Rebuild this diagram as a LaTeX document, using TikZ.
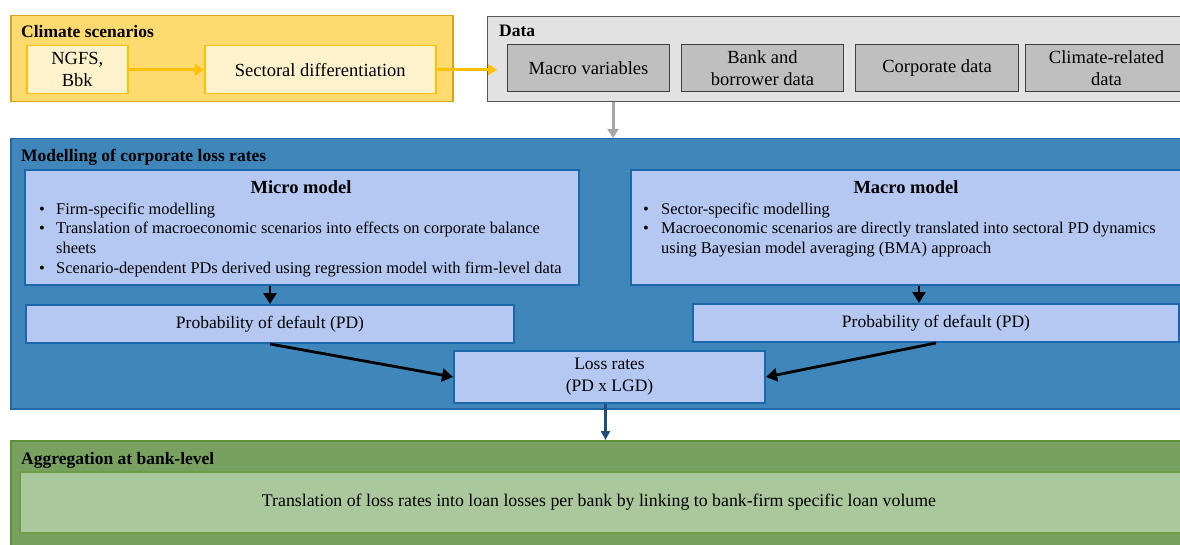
\documentclass[tikz,border=0pt]{standalone}
\usepackage{fontspec}
\setmainfont{Liberation Serif}
\usetikzlibrary{arrows.meta,calc}
\definecolor{climfill}{HTML}{FFDA6E}
\definecolor{climdraw}{HTML}{D9A41A}
\definecolor{yinfill}{HTML}{FFF2CC}
\definecolor{yindraw}{HTML}{FFC000}
\definecolor{datafill}{HTML}{E2E2E2}
\definecolor{datadraw}{HTML}{595959}
\definecolor{dinfill}{HTML}{BFBFBF}
\definecolor{dindraw}{HTML}{404040}
\definecolor{modfill}{HTML}{3F87BA}
\definecolor{moddraw}{HTML}{1F68A6}
\definecolor{binfill}{HTML}{B4C8F2}
\definecolor{bindraw}{HTML}{1C67AA}
\definecolor{aggfill}{HTML}{78A160}
\definecolor{aggdraw}{HTML}{5E9230}
\definecolor{ginfill}{HTML}{ABC79C}
\definecolor{gindraw}{HTML}{6C9E45}
\definecolor{grayarrow}{HTML}{A6A6A6}
\definecolor{bluearrow}{HTML}{1F4E79}
\newcommand{\fmain}{\fontsize{18.5}{22}\selectfont}
\newcommand{\fpd}{\fontsize{17.5}{22}\selectfont}
\newcommand{\fbul}{\fontsize{16.4}{19.7}\selectfont}
\newcommand{\fttl}{\fontsize{17.5}{20}\selectfont\bfseries}
\newcommand{\bpm}{\makebox[17pt][l]{\textbullet}}
\newcommand{\bpM}{\makebox[18pt][l]{\textbullet}}
\begin{document}
\begin{tikzpicture}[x=1pt,y=-1pt,
  outerbox/.style={anchor=north west, inner sep=0pt, line width=1.5pt, rectangle},
  ybox/.style={anchor=north west, inner sep=0pt, line width=1.5pt, fill=yinfill, draw=yindraw, align=center, font=\fmain},
  dbox/.style={anchor=north west, inner sep=0pt, line width=1pt, fill=dinfill, draw=dindraw, align=center, font=\fmain},
  bbox/.style={anchor=north west, inner sep=0pt, line width=2pt, fill=binfill, draw=bindraw, align=center, font=\fpd},
  gbox/.style={anchor=north west, inner sep=0pt, line width=2pt, fill=ginfill, draw=gindraw, align=center, font=\fpd},
  ttl/.style={anchor=base west, inner sep=0pt, font=\fttl},
  yarrow/.style={draw=yindraw, line width=2.5pt, -{Triangle[width=11pt,length=9pt]}},
  garrow/.style={draw=grayarrow, line width=3pt, -{Triangle[width=11pt,length=9pt]}},
  karrow/.style={draw=black, line width=2.8pt, -{Triangle[width=13pt,length=11pt]}},
  barrow/.style={draw=bluearrow, line width=2.5pt, -{Triangle[width=9pt,length=9pt]}}
]
\useasboundingbox (0,0) rectangle (1180,545);
% Climate scenarios
\node[outerbox, fill=climfill, draw=climdraw, minimum width=442pt, minimum height=86pt] (clim) at (10,15) {};
\node[ttl] (climt) at (21,38) {Climate scenarios};
\node[ybox, minimum width=101pt, minimum height=48pt] (ngfs) at (26,45) {NGFS,\\Bbk};
\node[ybox, minimum width=231pt, minimum height=48pt] (sect) at (204,45) {Sectoral differentiation};
% Data
\node[outerbox, fill=datafill, draw=datadraw, line width=1pt, minimum width=720pt, minimum height=85pt] (data) at (487,16) {};
\node[ttl] (datat) at (499,37) {Data};
\node[dbox, minimum width=162pt, minimum height=47pt] (mv) at (507,44) {Macro variables};
\node[dbox, minimum width=162pt, minimum height=47pt] (bank) at (681,44) {Bank and\\borrower data};
\node[dbox, minimum width=163pt, minimum height=47pt] (corp) at (855,44) {Corporate data};
\node[dbox, minimum width=162pt, minimum height=47pt] (cdat) at (1025,44) {Climate-related\\data};
% Modelling
\node[outerbox, fill=modfill, draw=moddraw, minimum width=1190pt, minimum height=270pt] (model) at (10,138) {};
\node[ttl] (modelt) at (21,162) {Modelling of corporate loss rates};
\node[bbox, minimum width=554pt, minimum height=115pt] (micro) at (24,169) {};
\node[bbox, minimum width=552pt, minimum height=115pt] (macro) at (630,169) {};
\node[anchor=base, inner sep=0pt, font=\fontsize{18.5}{20}\selectfont\bfseries] (microt) at (301,194) {Micro model};
\node[anchor=base, inner sep=0pt, font=\fontsize{18.5}{20}\selectfont\bfseries] (macrot) at (906,194) {Macro model};
\node[anchor=north west, inner sep=0pt, align=left, font=\fbul] (microb) at (39,202.5) {\bpm Firm-specific modelling\\
\bpm Translation of macroeconomic scenarios into effects on corporate balance\\
\hspace*{17pt}sheets\\
\bpm Scenario-dependent PDs derived using regression model with firm-level data};
\node[anchor=north west, inner sep=0pt, align=left, font=\fbul] (macrob) at (643,202.5) {\bpM Sector-specific modelling\\
\bpM Macroeconomic scenarios are directly translated into sectoral PD dynamics\\
\hspace*{18pt}using Bayesian model averaging (BMA) approach};
\node[bbox, minimum width=488pt, minimum height=38pt] (pdl) at (25,304) {Probability of default (PD)};
\node[bbox, minimum width=486pt, minimum height=38pt] (pdr) at (692,303) {Probability of default (PD)};
\node[bbox, minimum width=311pt, minimum height=52pt] (loss) at (453,350) {Loss rates\\(PD x LGD)};
% Aggregation
\node[outerbox, fill=aggfill, draw=aggdraw, minimum width=1190pt, minimum height=120pt] (agg) at (10,440) {};
\node[ttl] (aggt) at (21,464) {Aggregation at bank-level};
\node[gbox, minimum width=1180pt, minimum height=61pt] (aggin) at (19,471) {};
\node[anchor=center, inner sep=0pt, font=\fontsize{17.8}{20}\selectfont] (aggtxt) at (599,502) {Translation of loss rates into loan losses per bank by linking to bank-firm specific loan volume};
% Arrows
\draw[yarrow] (ngfs) -- (sect);
\draw[yarrow] (sect.east) -- ($(sect.east -| mv.west)+(-10,0)$);
\draw[garrow] ($(data.south west)+(126,0)$) coordinate (g1) -- (g1 |- model.north);
\draw[karrow] (micro.south -| pdl.north) -- (pdl.north);
\draw[karrow] ($(macro.south)+(12,0)$) coordinate (m1) -- (m1 |- pdr.north);
\draw[karrow] (pdl.south) -- (loss.west);
\draw[karrow] (pdr.south) -- (loss.east);
\draw[barrow] ($(loss.south)+(-4,0)$) coordinate (l1) -- (l1 |- agg.north);
\end{tikzpicture}
\end{document}
